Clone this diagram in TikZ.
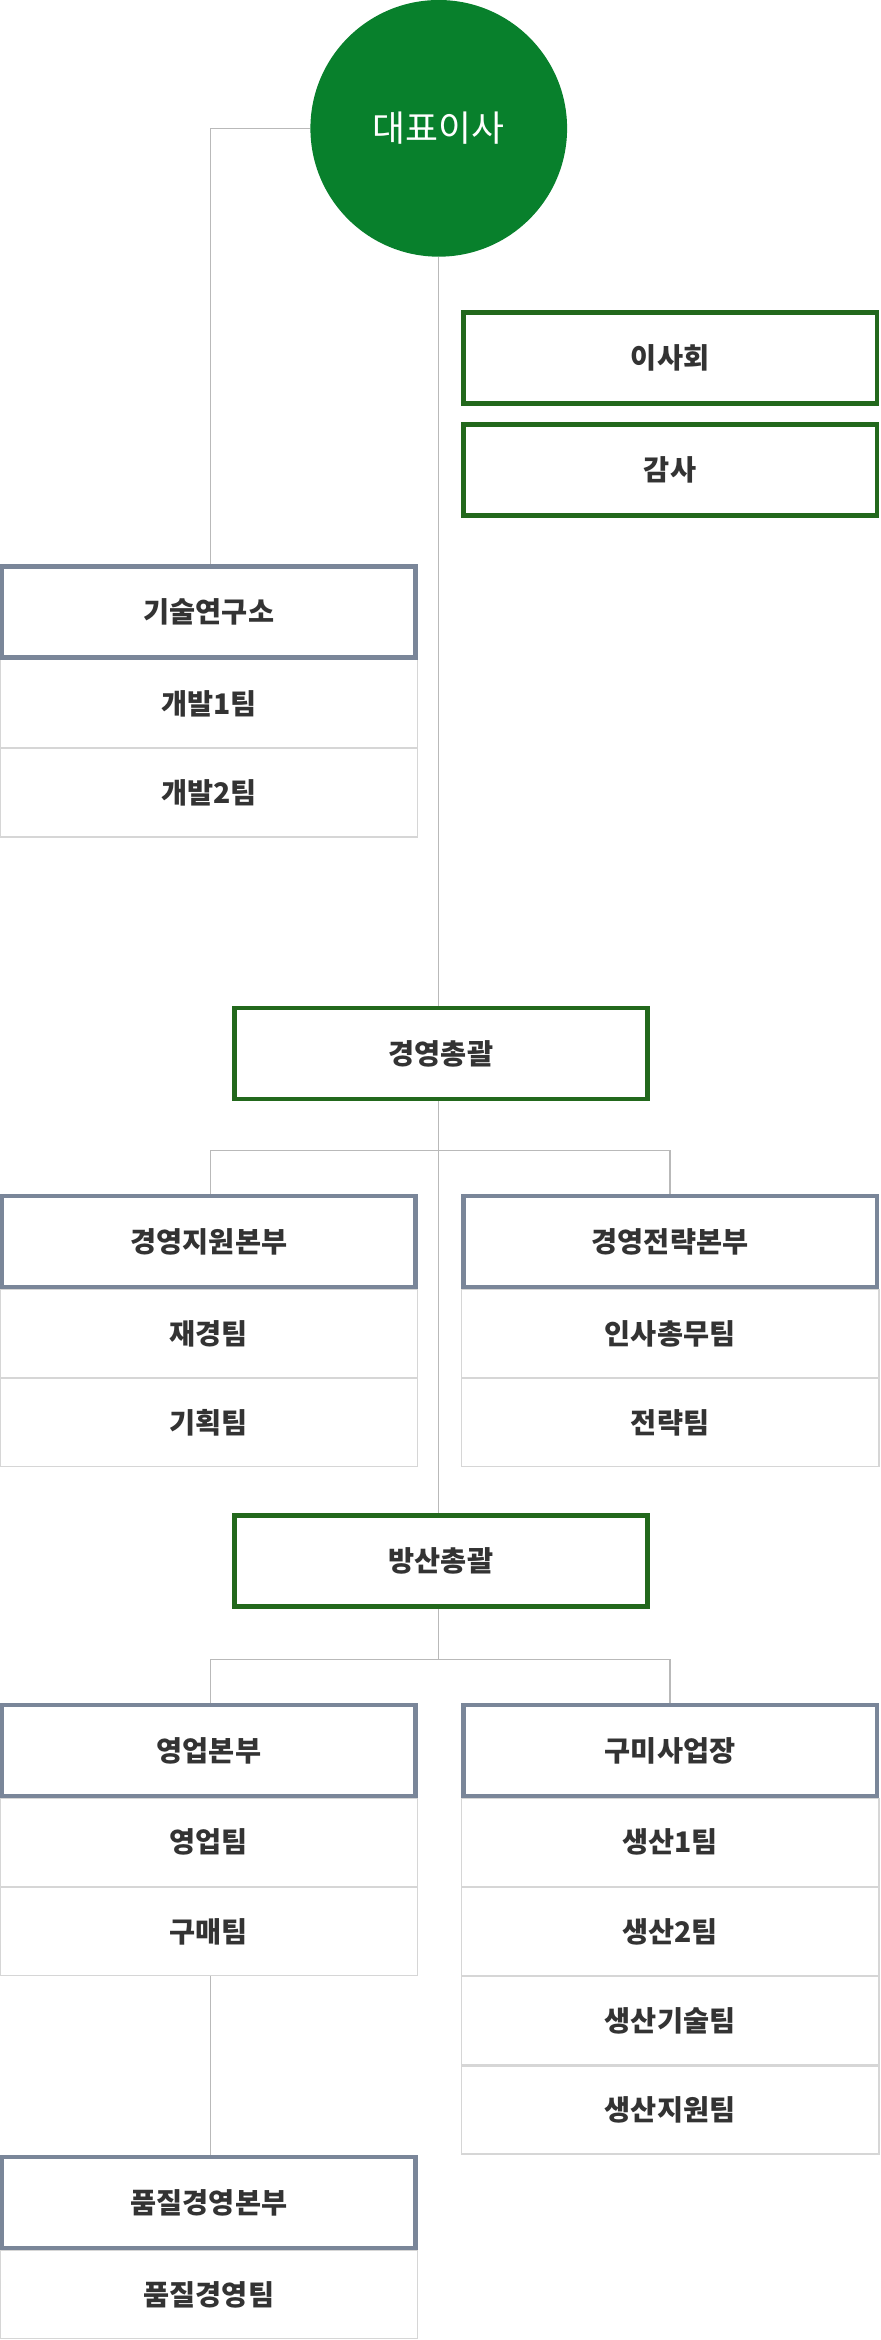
\documentclass[tikz,border=0pt]{standalone}
\usepackage{fontspec}
\setmainfont{Noto Sans CJK KR}
\usetikzlibrary{positioning}
\definecolor{ceoGreen}{RGB}{8, 128, 44}
\definecolor{boxGreen}{RGB}{34, 104, 28}
\definecolor{boxSlate}{RGB}{122, 134, 153}
\definecolor{teamLine}{RGB}{214, 214, 214}
\definecolor{linkGray}{RGB}{185, 185, 185}
\definecolor{textGray}{RGB}{51, 51, 51}
\tikzset{
  head/.style={draw=boxGreen, line width=3pt, fill=white, minimum width=277pt,
    minimum height=61pt, text=textGray, font=\fontsize{19}{22}\selectfont\bfseries, inner sep=0pt},
  dept/.style={head, draw=boxSlate},
  team/.style={draw=teamLine, line width=0.8pt, fill=white, minimum width=280pt,
    minimum height=59pt, text=textGray, font=\fontsize{19}{22}\selectfont\bfseries, inner sep=0pt},
  link/.style={draw=linkGray, line width=0.8pt}
}
\begin{document}
\begin{tikzpicture}[x=1pt, y=-1pt]
    \useasboundingbox (0,0) rectangle (590,1568);

    % connectors first, boxes on top
    \coordinate (ceoC) at (294,86);
    \coordinate (labC) at (141,378);
    \draw[link] (208,86) -| (labC);
    \draw[link] (294,172) -- (294,1014);
    \draw[link] (141,800) |- (449,771) -- (449,800);
    \draw[link] (294,1078) -- (294,1112);
    \draw[link] (141,1141) |- (449,1112) -- (449,1141);
    \draw[link] (141,1323) -- (141,1444);

    % CEO
    \node[circle, fill=ceoGreen, minimum size=172pt, text=white,
      font=\fontsize{24}{28}\selectfont] (ceo) at (ceoC) {대표이사};

    % board and audit
    \node[head] (board) at (449,240) {이사회};
    \node[head] (audit) at (449,315) {감사};

    % research lab
    \node[team] (dev1) at (140,471.5) {개발1팀};
    \node[team, below=0pt of dev1] (dev2) {개발2팀};
    \node[dept] (lab) at (140,410) {기술연구소};

    % management
    \node[head] (mgmt) at (295.5,706) {경영총괄};
    \node[team] (fin) at (140,893.5) {재경팀};
    \node[team, below=0pt of fin] (plan) {기획팀};
    \node[dept] (support) at (140,832) {경영지원본부};
    \node[team] (hr) at (449,893.5) {인사총무팀};
    \node[team, below=0pt of hr] (strat) {전략팀};
    \node[dept] (strategy) at (449,832) {경영전략본부};

    % defense
    \node[head] (defense) at (295.5,1046) {방산총괄};
    \node[team] (sales1) at (140,1234.5) {영업팀};
    \node[team, below=0pt of sales1] (buy) {구매팀};
    \node[dept] (sales) at (140,1173) {영업본부};
    \node[team] (prod1) at (449,1234.5) {생산1팀};
    \node[team, below=0pt of prod1] (prod2) {생산2팀};
    \node[team, below=0pt of prod2] (ptech) {생산기술팀};
    \node[team, below=0pt of ptech] (psup) {생산지원팀};
    \node[dept] (gumi) at (449,1173) {구미사업장};

    % quality
    \node[team] (qteam) at (140,1537.5) {품질경영팀};
    \node[dept] (quality) at (140,1476) {품질경영본부};
\end{tikzpicture}
\end{document}
